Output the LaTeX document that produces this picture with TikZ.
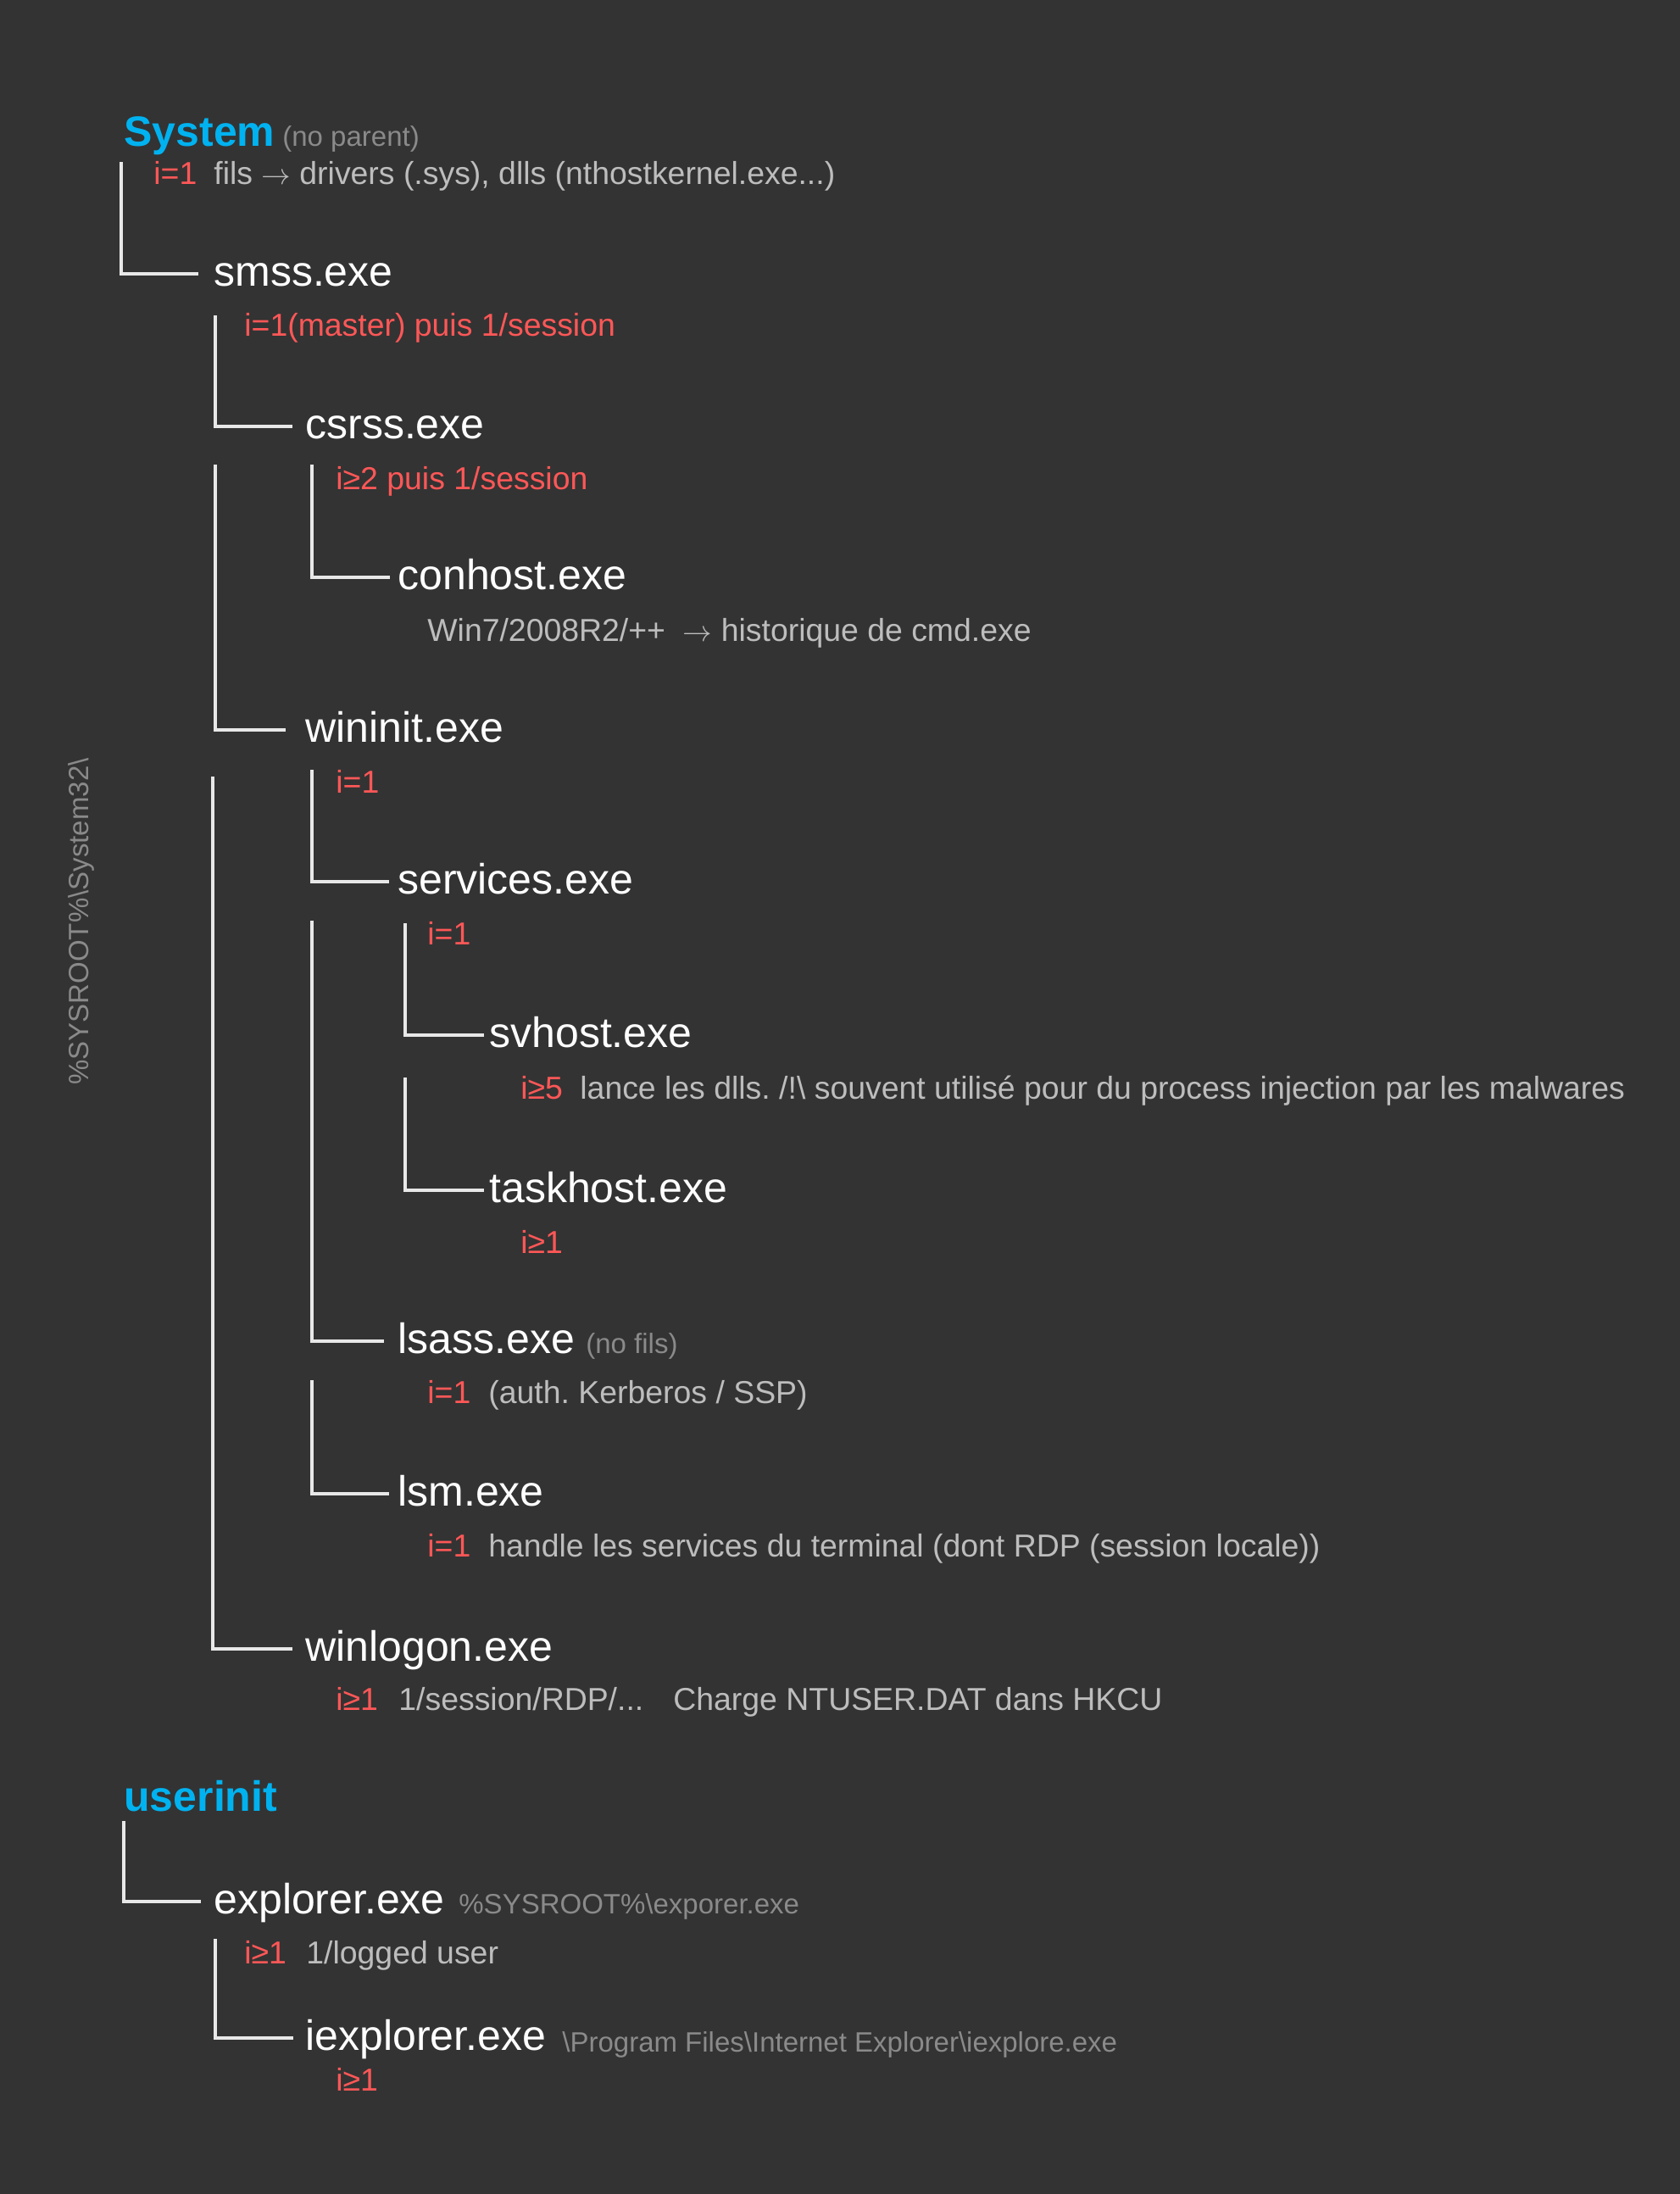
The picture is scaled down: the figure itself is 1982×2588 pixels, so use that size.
\documentclass[tikz,border=0pt]{standalone}
\usepackage{fontspec}
\setmainfont{Liberation Sans}
\frenchspacing
\definecolor{bgc}{HTML}{333333}
\definecolor{bluec}{RGB}{0,178,240}
\definecolor{redc}{HTML}{FF5757}
\definecolor{descc}{HTML}{BDBDBD}
\definecolor{pathc}{HTML}{8A8A8A}
\definecolor{linec}{HTML}{E8E8E8}
\newcommand{\myarrow}{\ensuremath{\rightarrow}}
\tikzset{
  procnode/.style={anchor=base west, inner sep=0pt, text=white, text height=14pt, text depth=0pt, font=\fontsize{25pt}{30pt}\selectfont},
  rootnode/.style={anchor=base west, inner sep=0pt, text=bluec, font=\fontsize{25pt}{30pt}\selectfont\bfseries},
  countnode/.style={anchor=base west, inner sep=0pt, text=redc, font=\fontsize{18.7pt}{22pt}\selectfont},
  descnode/.style={anchor=base west, inner sep=0pt, text=descc, font=\fontsize{18.7pt}{22pt}\selectfont},
  pathnode/.style={anchor=base west, inner sep=0pt, text=pathc, font=\fontsize{16.5pt}{20pt}\selectfont},
  conn/.style={draw=linec, line width=2.2pt, line join=miter, line cap=butt},
}
\begin{document}
\begin{tikzpicture}[x=0.5pt, y=-0.5pt]
\fill[bgc] (0,0) rectangle (1982,2588);
\useasboundingbox (0,0) rectangle (1982,2588);

% side label
\node[rotate=90, inner sep=0pt, text=pathc, font=\fontsize{16.5pt}{20pt}\selectfont] (sideLabel) at (96,1087) {\%SYSROOT\%\textbackslash System32\textbackslash};

% System
\node[rootnode] (system) at (146,172) {System};
\node[pathnode] (systemNote) at (333,172) {(no parent)};
\node[countnode] (systemCnt) at (181,217) {i=1};
\node[descnode] (systemDesc) at (252,217) {fils \myarrow\ drivers (.sys), dlls (nthostkernel.exe...)};

% smss
\node[procnode] (smss) at (252,337) {smss.exe};
\node[countnode] (smssCnt) at (288,396) {i=1(master) puis 1/session};

% csrss
\node[procnode] (csrss) at (360,517) {csrss.exe};
\node[countnode] (csrssCnt) at (396,577) {i≥2 puis 1/session};

% conhost
\node[procnode] (conhost) at (469,695) {conhost.exe};
\node[descnode] (conhostDesc) at (504,756) {Win7/2008R2/++\ \ \myarrow\ historique de cmd.exe};

% wininit
\node[procnode] (wininit) at (360,875) {wininit.exe};
\node[countnode] (wininitCnt) at (396,935) {i=1};

% services
\node[procnode] (services) at (469,1054) {services.exe};
\node[countnode] (servicesCnt) at (504,1114) {i=1};

% svhost
\node[procnode] (svhost) at (577,1235) {svhost.exe};
\node[countnode] (svhostCnt) at (614,1296) {i≥5};
\node[descnode] (svhostDesc) at (684,1296) {lance les dlls. /!\textbackslash\ souvent utilisé pour du process injection par les malwares};

% taskhost
\node[procnode] (taskhost) at (577,1418) {taskhost.exe};
\node[countnode] (taskhostCnt) at (614,1478) {i≥1};

% lsass
\node[procnode] (lsass) at (469,1596) {lsass.exe};
\node[pathnode] (lsassNote) at (691,1596) {(no fils)};
\node[countnode] (lsassCnt) at (504,1655) {i=1};
\node[descnode] (lsassDesc) at (576,1655) {(auth. Kerberos / SSP)};

% lsm
\node[procnode] (lsm) at (469,1776) {lsm.exe};
\node[countnode] (lsmCnt) at (504,1836) {i=1};
\node[descnode] (lsmDesc) at (576,1836) {handle les services du terminal (dont RDP (session locale))};

% winlogon
\node[procnode] (winlogon) at (360,1959) {winlogon.exe};
\node[countnode] (winlogonCnt) at (396,2017) {i≥1};
\node[descnode] (winlogonDesc) at (470,2017) {1/session/RDP/...};
\node[descnode] (winlogonDesc2) at (794,2017) {Charge NTUSER.DAT dans HKCU};

% userinit
\node[rootnode] (userinit) at (146,2136) {userinit};

% explorer
\node[procnode] (explorer) at (252,2257) {explorer.exe};
\node[pathnode] (explorerPath) at (541,2257) {\%SYSROOT\%\textbackslash exporer.exe};
\node[countnode] (explorerCnt) at (288,2316) {i≥1};
\node[descnode] (explorerDesc) at (361,2316) {1/logged user};

% iexplorer
\node[procnode] (iexplorer) at (360,2418) {iexplorer.exe};
\node[pathnode] (iexplorerPath) at (663,2420) {\textbackslash Program Files\textbackslash Internet Explorer\textbackslash iexplore.exe};
\node[countnode] (iexplorerCnt) at (396,2466) {i≥1};

% connector start points
\coordinate (tSmss) at (143,191);
\coordinate (tCsrss) at (254,372);
\coordinate (tConhost) at (368,548);
\coordinate (tWininit) at (254,548);
\coordinate (tServices) at (368,908);
\coordinate (tSvhost) at (478,1089);
\coordinate (tTaskhost) at (478,1271);
\coordinate (tLsass) at (368,1086);
\coordinate (tLsm) at (368,1628);
\coordinate (tWinlogon) at (251,916);
\coordinate (tExplorer) at (146,2148);
\coordinate (tIexplorer) at (254,2287);

% connectors
\draw[conn, shorten >=9pt] (tSmss) |- (smss.west);
\draw[conn, shorten >=7.5pt] (tCsrss) |- (csrss.west);
\draw[conn, shorten >=4.5pt] (tConhost) |- (conhost.west);
\draw[conn, shorten >=11.5pt] (tWininit) |- (wininit.west);
\draw[conn, shorten >=5pt] (tServices) |- (services.west);
\draw[conn, shorten >=3pt] (tSvhost) |- (svhost.west);
\draw[conn, shorten >=3pt] (tTaskhost) |- (taskhost.west);
\draw[conn, shorten >=8pt] (tLsass) |- (lsass.west);
\draw[conn, shorten >=5pt] (tLsm) |- (lsm.west);
\draw[conn, shorten >=7.5pt] (tWinlogon) |- (winlogon.west);
\draw[conn, shorten >=7.5pt] (tExplorer) |- (explorer.west);
\draw[conn, shorten >=7pt] (tIexplorer) |- (iexplorer.west);
\end{tikzpicture}
\end{document}
